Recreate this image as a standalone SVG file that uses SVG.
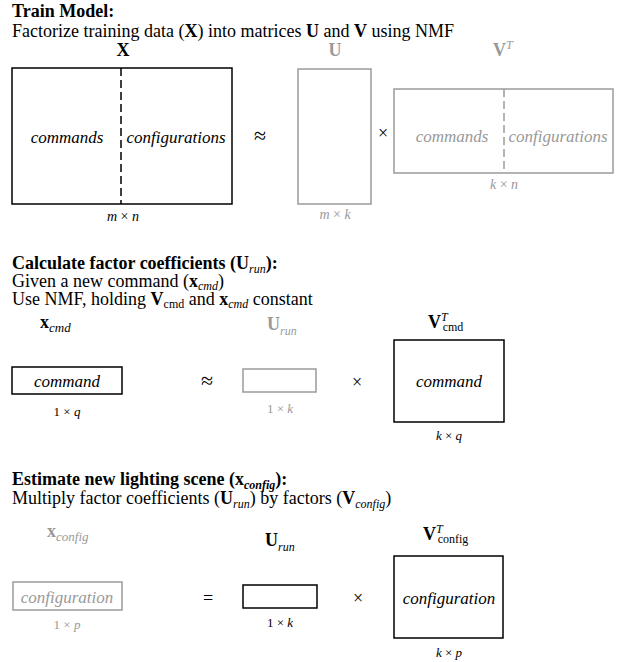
<svg xmlns="http://www.w3.org/2000/svg" width="634" height="662" viewBox="0 0 634 662">
  <style>
    text { font-family: "Liberation Serif", "Times New Roman", serif; fill: #000; }
    .h { font-size: 18px; font-weight: bold; }
    .t { font-size: 18px; }
    .b { font-weight: bold; }
    .n { font-weight: normal; }
    .i { font-style: italic; }
    .sub { font-size: 12px; }
    .sub2 { font-size: 13px; }
    .sup { font-size: 12px; font-style: italic; font-weight: normal; }
    .lbl { font-size: 17px; font-style: italic; }
    .dim { font-size: 13px; }
    .dim2 { font-size: 14px; }
    .op { font-size: 18px; }
    .apx { font-size: 22px; }
    .g { fill: #999; }
    .box { fill: #fff; stroke: #000; stroke-width: 1.5; }
    .gbox { fill: #fff; stroke: #9a9a9a; stroke-width: 1.5; }
    .dash { stroke: #000; stroke-width: 1.5; stroke-dasharray: 8 4; fill: none; }
    .gdash { stroke: #9a9a9a; stroke-width: 1.5; stroke-dasharray: 8 4; fill: none; }
  </style>

  <rect x="0" y="0" width="634" height="662" fill="#fff"/>

  <!-- Section 1: training -->
  <g id="section-train">
    <text class="h" x="12" y="17">Train Model:</text>
    <text class="t" x="12" y="37">Factorize training data (<tspan class="b">X</tspan>) into matrices <tspan class="b">U</tspan> and <tspan class="b">V</tspan> using NMF</text>
  </g>

  <g id="matrix-X">
    <text class="t b" x="123" y="56" text-anchor="middle">X</text>
    <rect class="box" x="12" y="68" width="220" height="136"/>
    <line class="dash" x1="121" y1="68" x2="121" y2="204"/>
    <text class="lbl" x="67" y="143" text-anchor="middle">commands</text>
    <text class="lbl" x="176" y="143" text-anchor="middle">configurations</text>
    <text class="dim2" x="123" y="221" text-anchor="middle"><tspan class="i">m</tspan> × <tspan class="i">n</tspan></text>
  </g>

  <g id="matrix-U">
    <text class="t b g" x="335" y="56" text-anchor="middle">U</text>
    <rect class="gbox" x="298" y="69" width="73" height="135"/>
    <text class="dim2 g" x="335" y="219" text-anchor="middle"><tspan class="i">m</tspan> × <tspan class="i">k</tspan></text>
  </g>

  <g id="matrix-VT">
    <text class="t b g" x="493" y="56">V<tspan class="sup" dy="-7">T</tspan></text>
    <rect class="gbox" x="394" y="89" width="219" height="84"/>
    <line class="gdash" x1="504" y1="89" x2="504" y2="173"/>
    <text class="lbl g" x="452" y="142" text-anchor="middle">commands</text>
    <text class="lbl g" x="558" y="142" text-anchor="middle">configurations</text>
    <text class="dim2 g" x="504" y="189" text-anchor="middle"><tspan class="i">k</tspan> × <tspan class="i">n</tspan></text>
  </g>

  <!-- operators between matrices -->
  <g id="connectors">
    <text class="apx" x="260" y="143" text-anchor="middle">≈</text>
    <text class="op" x="383" y="139" text-anchor="middle">×</text>
    <text class="apx" x="207" y="388" text-anchor="middle">≈</text>
    <text class="op" x="357" y="388" text-anchor="middle">×</text>
    <text class="op" x="208" y="604" text-anchor="middle">=</text>
    <text class="op" x="358" y="604" text-anchor="middle">×</text>
  </g>

  <!-- Section 2: factor coefficients -->
  <g id="section-coefficients">
    <text class="h" x="12" y="269">Calculate factor coefficients (U<tspan class="sub i n" dy="4">run</tspan><tspan dy="-4">):</tspan></text>
    <text class="t" x="12" y="287">Given a new command (<tspan class="b">x</tspan><tspan class="sub i" dy="3">cmd</tspan><tspan dy="-3">)</tspan></text>
    <text class="t" x="12" y="305">Use NMF, holding <tspan class="b">V</tspan><tspan class="sub" dy="3">cmd</tspan><tspan dy="-3"> and </tspan><tspan class="b">x</tspan><tspan class="sub i" dy="3">cmd</tspan><tspan dy="-3"> constant</tspan></text>
  </g>

  <g id="vector-x-cmd">
    <text class="t b" x="40" y="328">x<tspan class="sub2 i n" dy="4">cmd</tspan></text>
    <rect class="box" x="12" y="367" width="110" height="27"/>
    <text class="lbl" x="67" y="387" text-anchor="middle">command</text>
    <text class="dim" x="67" y="416" text-anchor="middle">1 × <tspan class="i">q</tspan></text>
  </g>

  <g id="vector-U-run">
    <text class="t b g" x="267" y="330">U<tspan class="sub i n" dy="5">run</tspan></text>
    <rect class="gbox" x="243" y="369" width="73" height="23"/>
    <text class="dim g" x="280" y="413" text-anchor="middle">1 × <tspan class="i">k</tspan></text>
  </g>

  <g id="matrix-VT-cmd">
    <text class="t b" x="428" y="328">V<tspan class="sup" dy="-7">T</tspan><tspan class="sub n" dx="-5" dy="10">cmd</tspan></text>
    <rect class="box" x="394" y="340" width="110" height="82"/>
    <text class="lbl" x="449" y="387" text-anchor="middle">command</text>
    <text class="dim" x="449" y="440" text-anchor="middle"><tspan class="i">k</tspan> × <tspan class="i">q</tspan></text>
  </g>

  <!-- Section 3: new lighting scene -->
  <g id="section-estimate">
    <text class="h" x="12" y="485">Estimate new lighting scene (x<tspan class="sub i" dy="4">config</tspan><tspan dy="-4">):</tspan></text>
    <text class="t" x="12" y="504">Multiply factor coefficients (<tspan class="b">U</tspan><tspan class="sub i" dy="4">run</tspan><tspan dy="-4">) by factors (</tspan><tspan class="b">V</tspan><tspan class="sub i" dy="4">config</tspan><tspan dy="-4">)</tspan></text>
  </g>

  <g id="vector-x-config">
    <text class="t b g" x="47" y="537">x<tspan class="sub2 i n" dy="4">config</tspan></text>
    <rect class="gbox" x="13" y="582" width="109" height="28"/>
    <text class="lbl g" x="67" y="603" text-anchor="middle">configuration</text>
    <text class="dim g" x="67" y="629" text-anchor="middle">1 × <tspan class="i">p</tspan></text>
  </g>

  <g id="vector-U-run-2">
    <text class="t b" x="265" y="546">U<tspan class="sub i n" dy="5">run</tspan></text>
    <rect class="box" x="243" y="585" width="74" height="23"/>
    <text class="dim" x="280" y="627" text-anchor="middle">1 × <tspan class="i">k</tspan></text>
  </g>

  <g id="matrix-VT-config">
    <text class="t b" x="423" y="540">V<tspan class="sup" dy="-7">T</tspan><tspan class="sub n" dx="-5" dy="10">config</tspan></text>
    <rect class="box" x="394" y="556" width="109" height="82"/>
    <text class="lbl" x="449" y="604" text-anchor="middle">configuration</text>
    <text class="dim" x="449" y="657" text-anchor="middle"><tspan class="i">k</tspan> × <tspan class="i">p</tspan></text>
  </g>
</svg>
